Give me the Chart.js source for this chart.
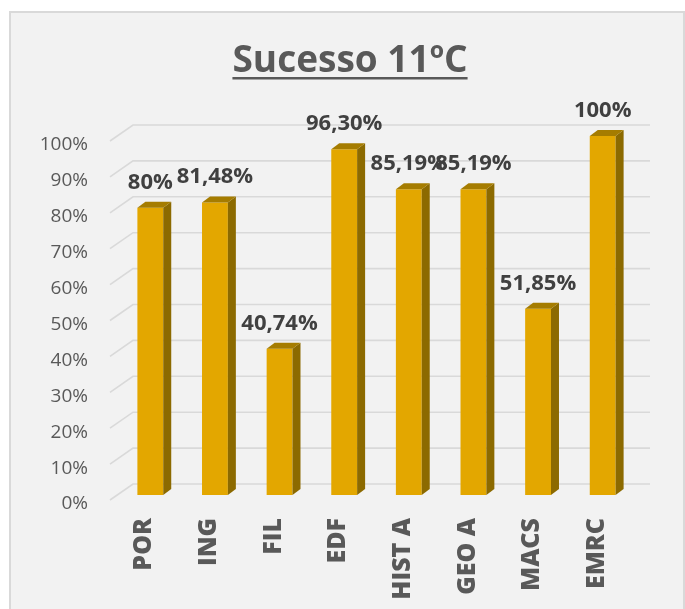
<!DOCTYPE html>
<html>
<head>
<meta charset="utf-8">
<title>Sucesso 11ºC</title>
<script src="https://cdn.jsdelivr.net/npm/chart.js@4"></script>
<style>
  html, body { margin: 0; padding: 0; background: #ffffff; }
  #wrap { width: 685px; height: 609px; }
</style>
</head>
<body>
<div id="wrap"><canvas id="sucessoChart"></canvas></div>
<script>
const categories = ['POR', 'ING', 'FIL', 'EDF', 'HIST A', 'GEO A', 'MACS', 'EMRC'];
const successRates = [80, 81.48, 40.74, 96.3, 85.19, 85.19, 51.85, 100];
const yTicks = [0, 10, 20, 30, 40, 50, 60, 70, 80, 90, 100];
const chartTitle = 'Sucesso 11ºC';

const FRONT = '#E3A700';
const SIDE = '#8C6A00';
const TOP = '#A57C00';
const DEPTH_X = 8;
const DEPTH_Y = 6;

function formatPct(v) {
  // Portuguese style decimals, whole numbers without decimals
  if (Number.isInteger(v)) return v + '%';
  return v.toFixed(2).replace('.', ',') + '%';
}

const frameAndTitle = {
  id: 'frameAndTitle',
  beforeDraw(chart) {
    const ctx = chart.ctx;
    ctx.save();
    ctx.fillStyle = '#ffffff';
    ctx.fillRect(0, 0, chart.width, chart.height);
    ctx.fillStyle = '#f2f2f2';
    ctx.fillRect(10, 12, 674, chart.height);
    ctx.strokeStyle = '#d9d9d9';
    ctx.lineWidth = 2;
    ctx.beginPath();
    ctx.moveTo(10, chart.height + 2);
    ctx.lineTo(10, 12);
    ctx.lineTo(684, 12);
    ctx.lineTo(684, chart.height + 2);
    ctx.stroke();

    // title with underline
    ctx.font = 'bold 37px "Open Sans"';
    ctx.fillStyle = '#595959';
    ctx.textAlign = 'center';
    ctx.textBaseline = 'alphabetic';
    ctx.fillText(chartTitle, 350, 72);
    const w = ctx.measureText(chartTitle).width;
    ctx.fillRect(350 - w / 2, 77, w, 2.5);
    ctx.restore();
  },
};

const gridWalls = {
  id: 'gridWalls',
  beforeDatasetsDraw(chart) {
    const ctx = chart.ctx;
    const y = chart.scales.y;
    ctx.save();
    ctx.strokeStyle = '#d9d9d9';
    ctx.lineWidth = 1.6;
    yTicks.forEach((v) => {
      const py = y.getPixelForValue(v);
      ctx.beginPath();
      ctx.moveTo(110, py + 5);
      ctx.lineTo(133, py - 11);
      ctx.lineTo(650, py - 11);
      ctx.stroke();
    });
    ctx.restore();
  },
};

const bars3d = {
  id: 'bars3d',
  afterDatasetsDraw(chart) {
    const ctx = chart.ctx;
    const meta = chart.getDatasetMeta(0);
    ctx.save();
    meta.data.forEach((bar, i) => {
      const half = bar.width / 2;
      const xl = bar.x - half;
      const xr = bar.x + half;
      const top = bar.y;
      const bottom = bar.base;

      ctx.fillStyle = SIDE;
      ctx.beginPath();
      ctx.moveTo(xr, top);
      ctx.lineTo(xr + DEPTH_X, top - DEPTH_Y);
      ctx.lineTo(xr + DEPTH_X, bottom - DEPTH_Y);
      ctx.lineTo(xr, bottom);
      ctx.closePath();
      ctx.fill();

      ctx.fillStyle = TOP;
      ctx.beginPath();
      ctx.moveTo(xl, top);
      ctx.lineTo(xl + DEPTH_X, top - DEPTH_Y);
      ctx.lineTo(xr + DEPTH_X, top - DEPTH_Y);
      ctx.lineTo(xr, top);
      ctx.closePath();
      ctx.fill();
    });

    // value labels
    ctx.font = 'bold 22px "Open Sans"';
    ctx.fillStyle = '#404040';
    ctx.textAlign = 'center';
    ctx.textBaseline = 'alphabetic';
    meta.data.forEach((bar, i) => {
      ctx.fillText(formatPct(successRates[i]), bar.x, bar.y - 19);
    });
    ctx.restore();
  },
};

const ctx = document.getElementById('sucessoChart').getContext('2d');

window.sucessoChart = new Chart(ctx, {
  type: 'bar',
  data: {
    labels: categories,
    datasets: [
      {
        label: 'Sucesso',
        data: successRates,
        backgroundColor: FRONT,
        borderWidth: 0,
        barPercentage: 0.4,
        categoryPercentage: 1,
      },
    ],
  },
  options: {
    responsive: true,
    maintainAspectRatio: false,
    animation: false,
    layout: {
      padding: { top: 136, right: 50, bottom: 0, left: 0 },
    },
    plugins: {
      legend: { display: false },
      tooltip: { enabled: false },
      title: { display: false },
    },
    scales: {
      x: {
        grid: { display: false, drawTicks: false },
        border: { display: false },
        ticks: {
          minRotation: 90,
          maxRotation: 90,
          autoSkip: false,
          padding: 23,
          labelOffset: -6,
          color: '#595959',
          font: { family: '"Open Sans"', size: 25, weight: 800 },
        },
        afterFit(scale) {
          scale.height = 114;
        },
      },
      y: {
        min: 0,
        max: 100,
        grid: { display: false, drawTicks: false },
        border: { display: false },
        ticks: {
          stepSize: 10,
          padding: 30,
          labelOffset: 9,
          color: '#595959',
          font: { family: '"Open Sans"', size: 19 },
          callback: (value) => value + '%',
        },
        afterFit(scale) {
          scale.width = 118;
        },
      },
    },
  },
  plugins: [frameAndTitle, gridWalls, bars3d],
});
</script>
</body>
</html>
